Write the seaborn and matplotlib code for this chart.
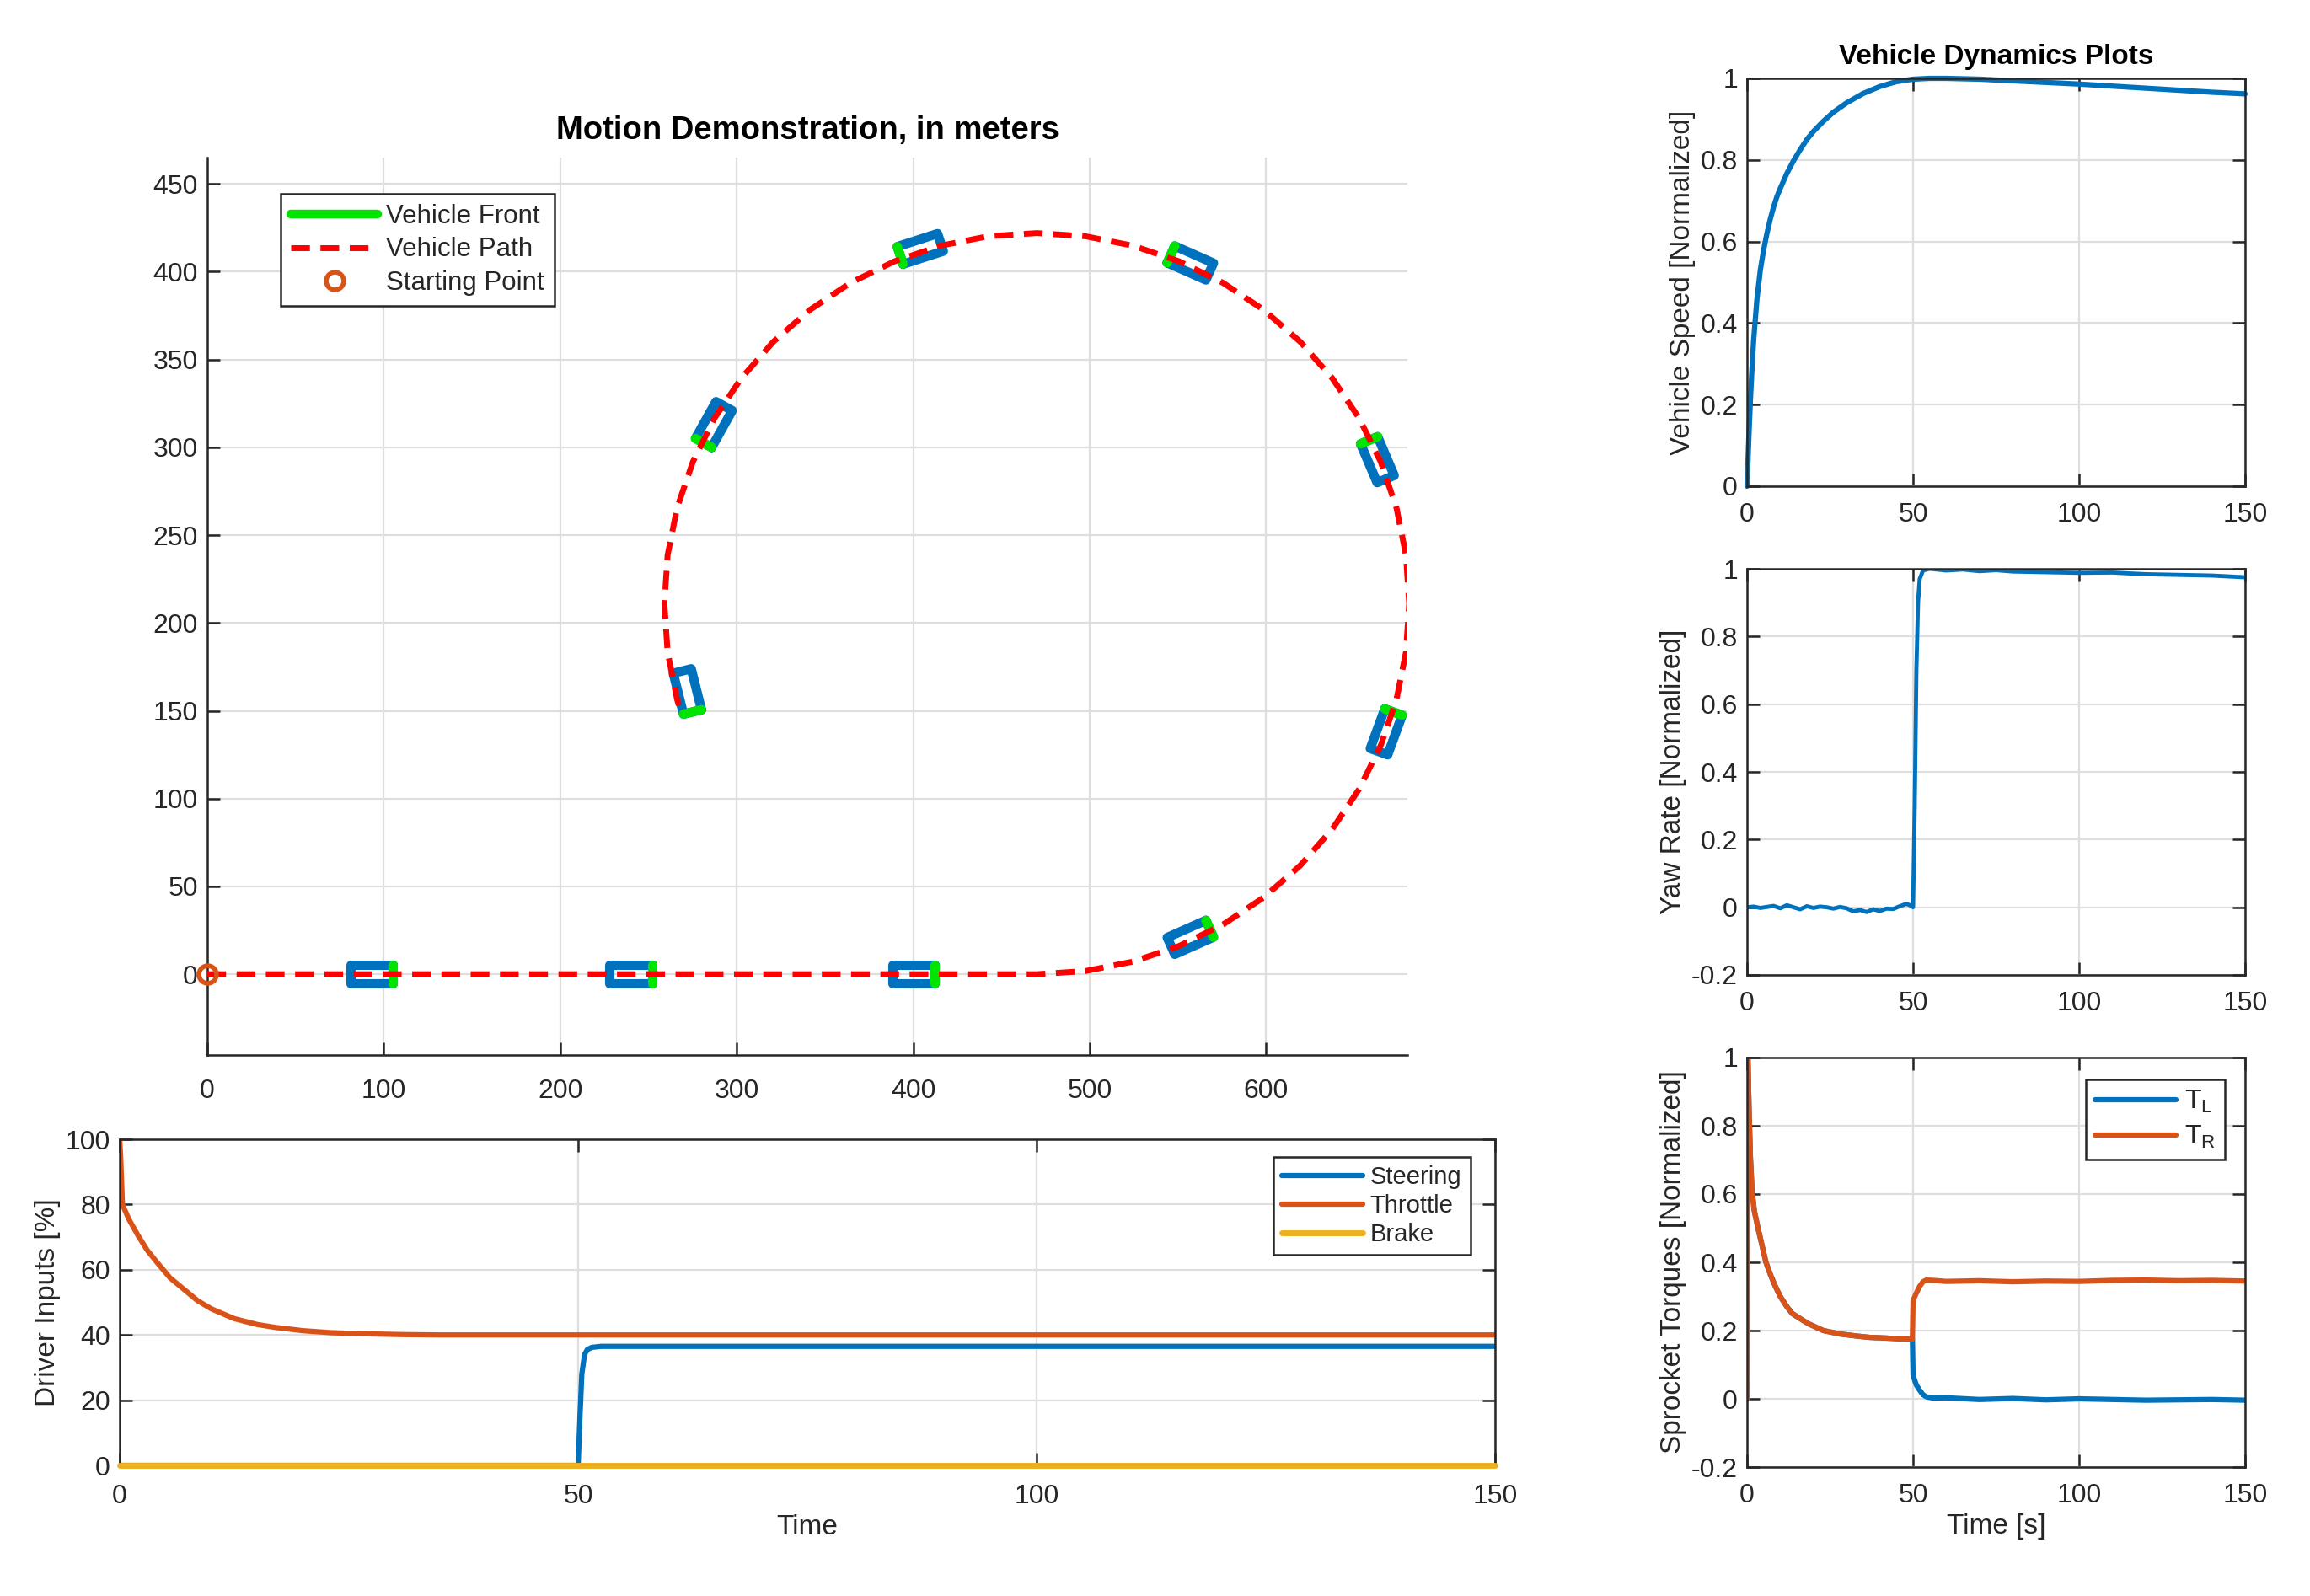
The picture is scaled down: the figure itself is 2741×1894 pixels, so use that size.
import numpy as np
import pandas as pd
import seaborn as sns
import matplotlib.pyplot as plt
from matplotlib.lines import Line2D

sns.set_style("whitegrid", {
    "axes.edgecolor": "#262626",
    "grid.color": "#dedede",
    "xtick.direction": "in",
    "ytick.direction": "in",
    "xtick.bottom": True,
    "ytick.left": True,
})
plt.rcParams['font.family'] = ['Liberation Sans', 'DejaVu Sans']
plt.rcParams['mathtext.default'] = 'regular'

BLUE = '#0072BD'
ORANGE = '#D95319'
YELLOW = '#EDB120'
GREEN = '#00E400'
RED = '#FF0000'
TXT = '#262626'

# ---- motion demonstration (meters) ----
path_x = [0, 470, 497.5, 524.6, 550.7, 575.5, 598.4, 619.2, 637.4, 652.7, 664.9,
          673.8, 679.2, 681, 679.2, 673.8, 664.9, 652.7, 637.4, 619.2, 598.4, 575.5,
          550.7, 524.6, 497.5, 470, 442.5, 415.4, 389.3, 364.5, 341.6, 320.8, 302.6,
          287.3, 275.1, 266.2, 260.8, 259, 260.8, 266.2, 268]
path_y = [0, 0, 1.8, 7.2, 16.1, 28.3, 43.6, 61.8, 82.6, 105.5, 130.3,
          156.4, 183.5, 211, 238.5, 265.6, 291.7, 316.5, 339.4, 360.2, 378.4, 393.7,
          405.9, 414.8, 420.2, 422, 420.2, 414.8, 405.9, 393.7, 378.4, 360.2, 339.4,
          316.5, 291.7, 265.6, 238.5, 211, 183.5, 156.4, 150]

veh_x = [93, 240, 400, 557, 668, 663, 557, 404, 287, 272]
veh_y = [0, 0, 0, 21, 138, 293, 405, 413, 313, 161]
veh_hdg = [0, 0, 0, 24, 70, 113, 156, 198, 241, 284]
VEH_LEN, VEH_WID = 24, 10.5

# ---- driver inputs [%] ----
thr_t = [0, 0.1, 0.3, 1, 2, 3, 4, 5.5, 7, 8.5, 10, 12.5, 15, 17, 20, 23, 26, 31, 35, 150]
thr = [100, 95, 80, 75.5, 70.5, 66, 62.5, 57.5, 54, 50.5, 48, 45, 43.2, 42.3, 41.3,
       40.7, 40.4, 40.1, 40, 40]
steer_t = [0, 50, 50.2, 50.4, 50.7, 51, 51.5, 52.5, 150]
steer = [0, 0, 15, 28, 34, 35.5, 36.2, 36.5, 36.5]
brake_t = [0, 150]
brake = [0, 0]

# ---- vehicle speed (normalized) ----
spd_t = [0, 0.5, 1, 1.5, 2, 3, 4, 5, 6, 7, 8, 9, 10, 12, 14, 16, 18, 20, 23, 26, 30,
         35, 40, 45, 50, 55, 60, 70, 80, 90, 100, 110, 120, 130, 140, 150]
spd = [0, 0.11, 0.21, 0.29, 0.36, 0.46, 0.53, 0.58, 0.62, 0.655, 0.685, 0.71, 0.73,
       0.767, 0.798, 0.825, 0.85, 0.87, 0.895, 0.917, 0.94, 0.963, 0.98, 0.992, 0.998,
       1.0, 1.0, 0.998, 0.994, 0.99, 0.986, 0.981, 0.976, 0.971, 0.966, 0.962]

# ---- yaw rate (normalized) ----
yaw_t = [0, 2, 4, 6, 8, 10, 12, 14, 16, 18, 20, 22, 24, 26, 28, 30, 32, 34, 36, 38,
         40, 42, 44, 46, 48, 49.5, 50, 50.5, 51, 51.5, 52, 53, 55, 60, 65, 70, 75, 80,
         90, 100, 110, 120, 130, 140, 150]
yaw = [0.0, 0.002, -0.002, 0.001, 0.004, -0.003, 0.006, 0.0, -0.006, 0.003, -0.002,
       0.002, 0.0, -0.004, 0.001, -0.003, -0.012, -0.008, -0.014, -0.006, -0.011,
       -0.004, -0.005, 0.003, 0.01, 0.004, 0.0, 0.3, 0.7, 0.9, 0.97, 0.995, 1.0, 0.995,
       0.998, 0.993, 0.996, 0.992, 0.99, 0.988, 0.989, 0.984, 0.982, 0.98, 0.975]

# ---- sprocket torques (normalized) ----
trq_t = [0, 0.25, 0.6, 1, 1.5, 2.2, 3.3, 4.5, 5.7, 7, 8.5, 10, 12, 13.6, 16, 18.5, 23,
         28, 33, 37, 42, 46, 49.8, 50, 50.3, 51, 52, 53, 54, 56, 60, 70, 80, 90, 100,
         110, 120, 130, 140, 150]
trq_l = [0, 1.0, 0.85, 0.71, 0.61, 0.55, 0.5, 0.45, 0.4, 0.365, 0.33, 0.3, 0.27, 0.25,
         0.235, 0.22, 0.2, 0.19, 0.184, 0.18, 0.178, 0.176, 0.175, 0.07, 0.06, 0.04,
         0.025, 0.012, 0.006, 0.002, 0.003, -0.002, 0.001, -0.003, 0.0, -0.002, -0.004,
         -0.003, -0.002, -0.004]
trq_r = [0, 1.0, 0.85, 0.71, 0.61, 0.55, 0.5, 0.45, 0.4, 0.365, 0.33, 0.3, 0.27, 0.25,
         0.235, 0.22, 0.2, 0.19, 0.184, 0.18, 0.178, 0.176, 0.175, 0.29, 0.295, 0.31,
         0.33, 0.343, 0.348, 0.347, 0.344, 0.346, 0.343, 0.345, 0.344, 0.347, 0.348,
         0.346, 0.347, 0.345]

W, H = 2741, 1894
fig = plt.figure(figsize=(W / 100, H / 100), dpi=100)


def px_axes(left, top, right, bottom):
    return fig.add_axes([left / W, 1 - bottom / H, (right - left) / W, (bottom - top) / H])


def matlab_look(ax, box=True):
    for s in ax.spines.values():
        s.set_color(TXT)
        s.set_linewidth(1.8)
    if not box:
        ax.spines['top'].set_visible(False)
        ax.spines['right'].set_visible(False)
    ax.tick_params(axis='both', direction='in', length=11, width=1.8,
                   labelsize=23, labelcolor=TXT, color=TXT,
                   top=box, right=box)
    ax.tick_params(axis='x', pad=14)
    ax.tick_params(axis='y', pad=8)
    ax.grid(True, color='#dedede', linewidth=1.6)
    ax.set_axisbelow(True)


# ================= motion plot =================
ax = px_axes(246, 187, 1670, 1252)
matlab_look(ax, box=False)
ax.tick_params(axis='x', pad=20)
for cx, cy, h in zip(veh_x, veh_y, veh_hdg):
    a = np.deg2rad(h)
    ux, uy = np.cos(a), np.sin(a)
    vx, vy = -uy, ux
    hl, hw = VEH_LEN / 2, VEH_WID / 2
    corners = [(hl, hw), (-hl, hw), (-hl, -hw), (hl, -hw), (hl, hw)]
    xs = [cx + p * ux + q * vx for p, q in corners]
    ys = [cy + p * uy + q * vy for p, q in corners]
    ax.plot(xs, ys, color=BLUE, lw=8, solid_joinstyle='round', zorder=3)
    ax.plot(xs[3:5], ys[3:5], color=GREEN, lw=8, solid_capstyle='round', zorder=4)

sns.lineplot(x=path_x, y=path_y, sort=False, estimator=None, ax=ax, color=RED,
             lw=5, zorder=5)
ax.lines[-1].set_linestyle((0, (3.2, 1.8)))
ax.plot([0], [0], marker='o', ms=15, mew=4, mfc='none', mec=ORANGE, ls='none',
        clip_on=False, zorder=6)

ax.set_xlim(0, 680)
ax.set_ylim(-46, 465)
ax.set_xticks(range(0, 700, 100))
ax.set_yticks(range(0, 500, 50))
ax.set_title('Motion Demonstration, in meters', fontsize=27.5, fontweight='bold',
             color='black', pad=16)
handles = [
    Line2D([], [], color=GREEN, lw=7.5),
    Line2D([], [], color=RED, lw=5, ls=(0, (3.2, 1.8))),
    Line2D([], [], marker='o', ms=15, mew=4, mfc='none', mec=ORANGE, ls='none'),
]
leg = ax.legend(handles, ['Vehicle Front', 'Vehicle Path', 'Starting Point'],
                loc='upper left', bbox_to_anchor=(0.061, 0.96), borderaxespad=0,
                fontsize=22.5, handlelength=3.3, handletextpad=0.3, labelspacing=0.3,
                fancybox=False, framealpha=1, edgecolor=TXT, borderpad=0.4)
leg.get_frame().set_linewidth(1.8)

# ================= driver inputs =================
ax = px_axes(142, 1352, 1774, 1739)
matlab_look(ax)
ax.tick_params(axis='x', pad=16)
sns.lineplot(x=steer_t, y=steer, ax=ax, color=BLUE, lw=4.5, label='Steering',
             estimator=None, sort=False)
sns.lineplot(x=thr_t, y=thr, ax=ax, color=ORANGE, lw=4.5, label='Throttle',
             estimator=None, sort=False)
sns.lineplot(x=brake_t, y=brake, ax=ax, color=YELLOW, lw=5, label='Brake',
             estimator=None, sort=False)
ax.lines[-1].set_clip_on(False)
ax.lines[-1].set_zorder(5)
ax.set_xlim(0, 150)
ax.set_ylim(0, 100)
ax.set_xticks([0, 50, 100, 150])
ax.set_yticks(range(0, 101, 20))
ax.set_xlabel('Time', fontsize=24, color=TXT)
ax.set_ylabel('Driver Inputs [%]', fontsize=24, color=TXT)
leg = ax.legend(loc='upper right', bbox_to_anchor=(0.982, 0.946), borderaxespad=0,
                fontsize=21, handlelength=3.3, handletextpad=0.3, labelspacing=0.2,
                fancybox=False, framealpha=1, edgecolor=TXT, borderpad=0.35)
leg.get_frame().set_linewidth(1.8)

# ================= right column =================
ax1 = px_axes(2073, 93, 2664, 577)
matlab_look(ax1)
sns.lineplot(x=spd_t, y=spd, ax=ax1, color=BLUE, lw=4.5, estimator=None, sort=False)
ax1.lines[-1].set_clip_on(False)
ax1.set_xlim(0, 150)
ax1.set_ylim(0, 1)
ax1.set_xticks([0, 50, 100, 150])
ax1.set_yticks(np.arange(0, 1.01, 0.2))
ax1.set_yticklabels(['0', '0.2', '0.4', '0.6', '0.8', '1'])
ax1.set_ylabel('Vehicle Speed [Normalized]', fontsize=24, color=TXT)
ax1.set_title('Vehicle Dynamics Plots', fontsize=24, fontweight='bold',
              color='black', pad=12)

ax2 = px_axes(2073, 675, 2664, 1157)
matlab_look(ax2)
sns.lineplot(x=yaw_t, y=yaw, ax=ax2, color=BLUE, lw=3.5, estimator=None, sort=False)
ax2.set_xlim(0, 150)
ax2.set_ylim(-0.2, 1)
ax2.set_xticks([0, 50, 100, 150])
ax2.set_yticks(np.arange(-0.2, 1.01, 0.2))
ax2.set_yticklabels(['-0.2', '0', '0.2', '0.4', '0.6', '0.8', '1'])
ax2.set_ylabel('Yaw Rate [Normalized]', fontsize=24, color=TXT)

ax3 = px_axes(2073, 1255, 2664, 1741)
matlab_look(ax3)
sns.lineplot(x=trq_t, y=trq_l, ax=ax3, color=BLUE, lw=4.5, label='T$_L$',
             estimator=None, sort=False)
sns.lineplot(x=trq_t, y=trq_r, ax=ax3, color=ORANGE, lw=4.5, label='T$_R$',
             estimator=None, sort=False)
ax3.set_xlim(0, 150)
ax3.set_ylim(-0.2, 1)
ax3.set_xticks([0, 50, 100, 150])
ax3.set_yticks(np.arange(-0.2, 1.01, 0.2))
ax3.set_yticklabels(['-0.2', '0', '0.2', '0.4', '0.6', '0.8', '1'])
ax3.set_ylabel('Sprocket Torques [Normalized]', fontsize=24, color=TXT)
ax3.set_xlabel('Time [s]', fontsize=24, color=TXT)
leg = ax3.legend(loc='upper right', bbox_to_anchor=(0.959, 0.947), borderaxespad=0,
                 fontsize=23, handlelength=3.0, handletextpad=0.3, labelspacing=0.35,
                 fancybox=False, framealpha=1, edgecolor=TXT, borderpad=0.35)
leg.get_frame().set_linewidth(1.8)

fig.savefig('out.png', dpi=100, facecolor='white')
